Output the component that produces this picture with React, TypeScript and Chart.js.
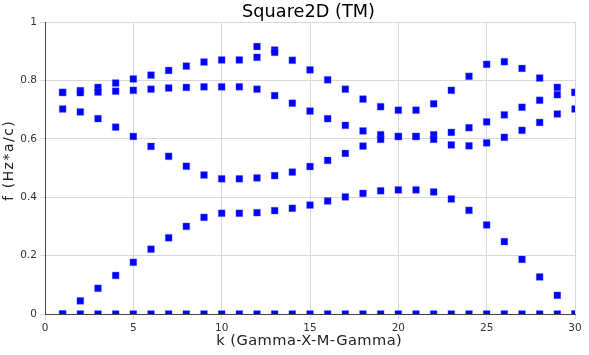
import React, { useEffect, useRef } from "react";
import { Chart, registerables } from "chart.js";
Chart.register(...registerables);

const kValues = [1, 2, 3, 4, 5, 6, 7, 8, 9, 10, 11, 12, 13, 14, 15, 16, 17, 18, 19, 20, 21, 22, 23, 24, 25, 26, 27, 28, 29, 30];

const band0 = [0, 0, 0, 0, 0, 0, 0, 0, 0, 0, 0, 0, 0, 0, 0, 0, 0, 0, 0, 0, 0, 0, 0, 0, 0, 0, 0, 0, 0, 0];
const band1 = [0, 0.045, 0.088, 0.132, 0.177, 0.222, 0.261, 0.3, 0.331, 0.345, 0.345, 0.347, 0.354, 0.362, 0.373, 0.387, 0.401, 0.413, 0.422, 0.425, 0.425, 0.418, 0.394, 0.355, 0.305, 0.248, 0.187, 0.127, 0.064, 0];
const band2 = [0.702, 0.692, 0.669, 0.64, 0.608, 0.574, 0.54, 0.506, 0.476, 0.463, 0.463, 0.466, 0.474, 0.486, 0.505, 0.526, 0.55, 0.575, 0.598, 0.608, 0.608, 0.598, 0.579, 0.576, 0.586, 0.605, 0.629, 0.656, 0.685, 0.702];
const band3 = [0.759, 0.758, 0.76, 0.763, 0.766, 0.77, 0.774, 0.776, 0.778, 0.778, 0.778, 0.77, 0.748, 0.722, 0.695, 0.669, 0.646, 0.627, 0.614, 0.608, 0.608, 0.614, 0.622, 0.638, 0.658, 0.682, 0.708, 0.732, 0.751, 0.759];
const band4 = [0.759, 0.765, 0.776, 0.791, 0.805, 0.818, 0.834, 0.849, 0.863, 0.87, 0.87, 0.879, 0.896, 0.869, 0.836, 0.802, 0.77, 0.736, 0.71, 0.698, 0.698, 0.72, 0.766, 0.814, 0.855, 0.864, 0.841, 0.808, 0.776, 0.759];
const band5: (number | null)[] = [null, null, null, null, null, null, null, null, null, null, null, 0.916, 0.904, null, null, null, null, null, null, null, null, null, null, null, null, null, null, null, null, null];

const bands: (number | null)[][] = [band0, band1, band2, band3, band4, band5];

const chartTitle = "Square2D (TM)";
const xTitle = "k (Gamma-X-M-Gamma)";
const yTitle = "f (Hz*a/c)";

const FONT = "'DejaVu Sans', sans-serif";

function drawSpaced(ctx: CanvasRenderingContext2D, text: string, size: number, targetWidth: number, cx: number, baseline: number) {
  ctx.font = `${size}px ${FONT}`;
  (ctx as any).letterSpacing = "0px";
  const w = ctx.measureText(text).width;
  const extra = Math.max(0, (targetWidth - w) / text.length);
  (ctx as any).letterSpacing = `${extra}px`;
  const w2 = ctx.measureText(text).width;
  ctx.textAlign = "left";
  ctx.textBaseline = "alphabetic";
  ctx.fillText(text, cx - (w2 - extra) / 2, baseline);
  (ctx as any).letterSpacing = "0px";
}

const textPlugin = {
  id: "customTexts",
  afterDraw(chart: any) {
    const { ctx } = chart;
    ctx.save();
    ctx.fillStyle = "#000";
    drawSpaced(ctx, chartTitle, 17.7, 133, 308.5, 17.3);
    ctx.fillStyle = "#222";
    drawSpaced(ctx, xTitle, 14.6, 186, 309, 345);
    ctx.translate(12.5, 161);
    ctx.rotate(-Math.PI / 2);
    drawSpaced(ctx, yTitle, 13.8, 81, 0, 0);
    ctx.restore();
  },
};

export default function App() {
  const ref = useRef<HTMLCanvasElement>(null);
  useEffect(() => {
    document.body.style.margin = "0";
    const chart = new Chart(ref.current!, {
      type: "scatter",
      data: {
        datasets: bands.map((b) => ({
          data: kValues
            .map((k, i) => ({ x: k, y: b[i] }))
            .filter((p) => p.y !== null) as any,
          pointStyle: "rect",
          pointRadius: 4.8,
          backgroundColor: "#0000ff",
          borderColor: "rgba(90,90,255,0.6)",
          borderWidth: 0.6,
          clip: 0,
        })),
      },
      options: {
        animation: false,
        responsive: false,
        layout: { padding: { top: 22, right: 14, left: 0, bottom: 0 } },
        plugins: { legend: { display: false }, tooltip: { enabled: false }, title: { display: false } },
        scales: {
          x: {
            type: "linear",
            min: 0,
            max: 30,
            ticks: { stepSize: 5, font: { family: FONT, size: 10.5 }, color: "#333", padding: 3, maxRotation: 0 },
            grid: { color: "#d8d8d8", tickLength: 5 },
            border: { color: "#444" },
            title: { display: false },
            afterFit: (s: any) => {
              s.height = 41;
            },
          },
          y: {
            min: 0,
            max: 1,
            ticks: {
              stepSize: 0.2,
              font: { family: FONT, size: 10.5 },
              color: "#333",
              padding: 3,
              callback: (v: any) => String(Number(Number(v).toFixed(1))),
            },
            grid: { color: "#d8d8d8", tickLength: 5 },
            border: { color: "#444" },
            title: { display: false },
            afterFit: (s: any) => {
              s.width = 45;
            },
          },
        },
      },
      plugins: [textPlugin],
    });
    return () => chart.destroy();
  }, []);
  return (
    <div style={{ position: "absolute", left: 0, top: 0, width: 589, height: 355 }}>
      <canvas ref={ref} width={589} height={355} style={{ width: 589, height: 355, display: "block" }} />
    </div>
  );
}
